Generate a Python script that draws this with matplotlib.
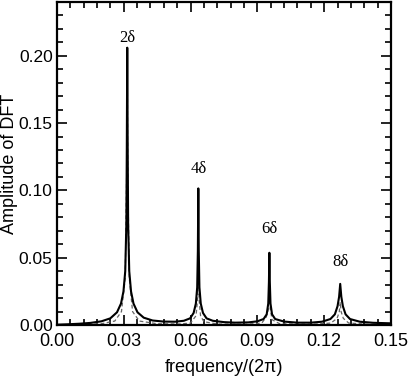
import numpy as np
import matplotlib
matplotlib.use("Agg")
import matplotlib.pyplot as plt
from matplotlib.ticker import MultipleLocator

# Spectrum: solid curve
solid_freq = [0.000, 0.005, 0.010, 0.015, 0.020, 0.024, 0.027, 0.0288, 0.0299, 0.0307,
              0.0312, 0.0314, 0.0316, 0.0318, 0.0320, 0.0325, 0.0333, 0.0344, 0.0362, 0.039,
              0.043, 0.048, 0.053, 0.057, 0.0598, 0.0614, 0.0624, 0.0630, 0.0633, 0.0635,
              0.0637, 0.0640, 0.0646, 0.0656, 0.0672, 0.070, 0.075, 0.080, 0.086, 0.090,
              0.0928, 0.0942, 0.0949, 0.0952, 0.0954, 0.0956, 0.0959, 0.0966, 0.0980, 0.102,
              0.108, 0.114, 0.119, 0.1228, 0.1248, 0.1260, 0.1267, 0.1272, 0.1277, 0.1284,
              0.1296, 0.1316, 0.1360, 0.1420, 0.1500]
solid_amp = [0.0003, 0.0006, 0.0010, 0.0016, 0.0028, 0.0050, 0.0095, 0.016, 0.025, 0.040,
             0.075, 0.130, 0.206, 0.130, 0.075, 0.040, 0.025, 0.016, 0.0095, 0.0055,
             0.0034, 0.0026, 0.0025, 0.0032, 0.0050, 0.0090, 0.016, 0.028, 0.055, 0.1015,
             0.055, 0.028, 0.016, 0.0090, 0.0050, 0.0032, 0.0022, 0.0018, 0.0020, 0.0028,
             0.0045, 0.0080, 0.016, 0.032, 0.0537, 0.032, 0.016, 0.0080, 0.0045, 0.0026,
             0.0018, 0.0018, 0.0025, 0.0045, 0.0080, 0.014, 0.021, 0.0306, 0.021, 0.014,
             0.0080, 0.0045, 0.0025, 0.0017, 0.0013]

# dashed curve
dashed_freq = [0.000, 0.010, 0.020, 0.026, 0.029, 0.0307, 0.0314, 0.0316, 0.0318, 0.0325,
               0.0340, 0.037, 0.045, 0.055, 0.060, 0.0625, 0.0632, 0.0635, 0.0638, 0.0645,
               0.066, 0.072, 0.085, 0.092, 0.0940, 0.0950, 0.0954, 0.0958, 0.0966, 0.100,
               0.115, 0.123, 0.1258, 0.1268, 0.1272, 0.1276, 0.1286, 0.131, 0.140, 0.150]
dashed_amp = [0.0002, 0.0004, 0.0010, 0.0030, 0.010, 0.035, 0.120, 0.200, 0.120, 0.035,
              0.010, 0.0030, 0.0010, 0.0008, 0.0015, 0.0070, 0.020, 0.060, 0.020, 0.0070,
              0.0025, 0.0008, 0.0006, 0.0015, 0.0060, 0.012, 0.028, 0.012, 0.0040, 0.0010,
              0.0006, 0.0015, 0.0050, 0.010, 0.017, 0.010, 0.0050, 0.0015, 0.0006, 0.0004]

peak_labels = ["2δ", "4δ", "6δ", "8δ"]
peak_label_freq = [0.0316, 0.0635, 0.0954, 0.1272]
peak_label_amp = [0.213, 0.1157, 0.071, 0.047]

fig = plt.figure(figsize=(4.09, 3.82), dpi=100)
ax = fig.add_axes([0.139, 0.149, 0.817, 0.846])

ax.plot(dashed_freq, dashed_amp, color="0.4", linewidth=0.9, linestyle=(0, (3, 2)))
ax.plot(solid_freq, solid_amp, color="black", linewidth=1.5)

for lab, f, a in zip(peak_labels, peak_label_freq, peak_label_amp):
    ax.text(f, a, lab, ha="center", va="center", fontsize=12, family="Liberation Serif")

ax.set_xlim(0, 0.15)
ax.set_ylim(0, 0.24)
ax.xaxis.set_major_locator(MultipleLocator(0.03))
ax.xaxis.set_minor_locator(MultipleLocator(0.006))
ax.yaxis.set_major_locator(MultipleLocator(0.05))
ax.yaxis.set_minor_locator(MultipleLocator(0.01))
ax.xaxis.set_major_formatter(plt.FormatStrFormatter("%.2f"))
ax.yaxis.set_major_formatter(plt.FormatStrFormatter("%.2f"))

ax.tick_params(which="both", direction="in", top=True, right=True, width=1.2)
ax.tick_params(which="major", length=7)
ax.tick_params(which="minor", length=4)
ax.tick_params(axis="x", pad=6)
ax.tick_params(axis="y", pad=3)
for spine in ax.spines.values():
    spine.set_linewidth(1.6)

for tick in ax.get_xticklabels():
    tick.set_fontsize(13)
    tick.set_family("Liberation Sans")
for tick in ax.get_yticklabels():
    tick.set_fontsize(12.5)
    tick.set_family("Liberation Sans")

ax.set_xlabel("frequency/(2π)", fontsize=13, family="Liberation Sans")
ax.set_ylabel("Amplitude of DFT", fontsize=13, family="Liberation Sans")
ax.xaxis.set_label_coords(0.5, -0.105)
ax.yaxis.set_label_coords(-0.116, 0.5)

plt.savefig("out.png", dpi=100)
